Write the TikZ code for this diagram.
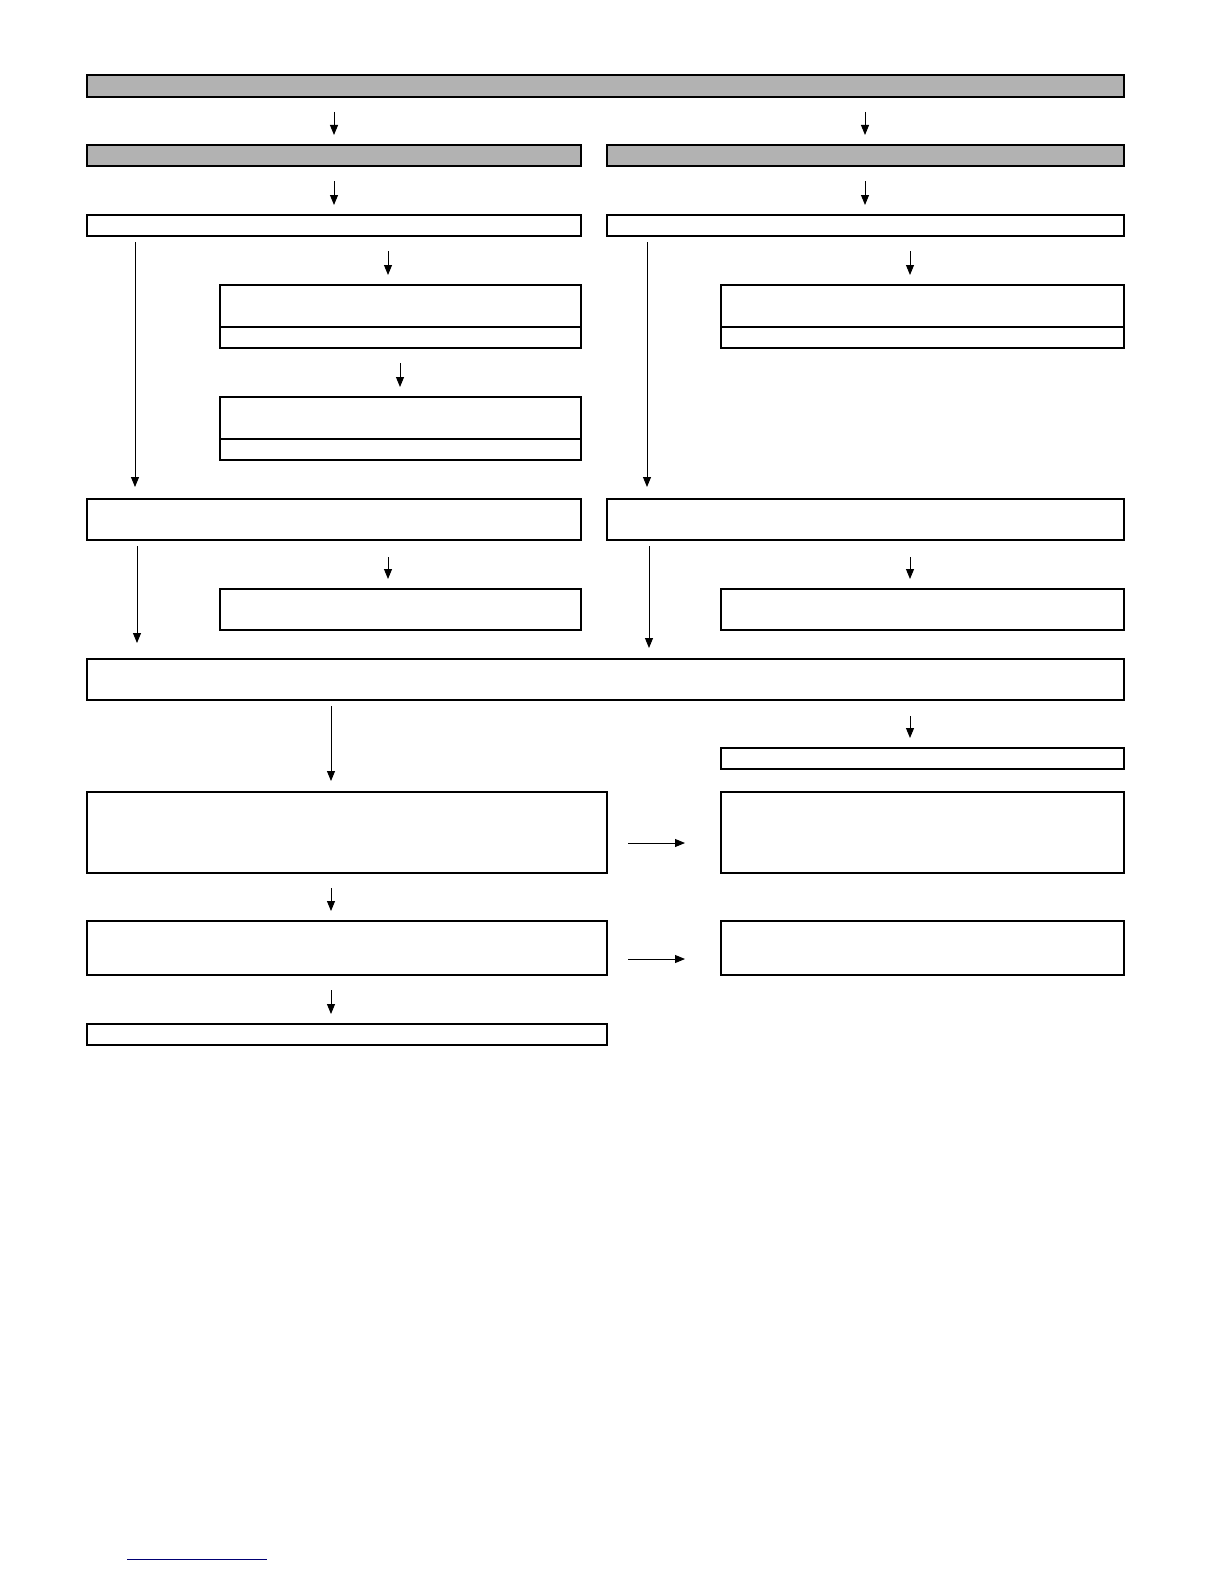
\documentclass[tikz,border=0pt]{standalone}
\usepackage{tikz}
\usetikzlibrary{arrows.meta}

\begin{document}
\begin{tikzpicture}
			[x=1pt,y=-1pt,line cap=butt,
			%Styles
			box/.style={draw,line width=1.1pt,inner sep=0pt,outer sep=0pt,anchor=north west},
			head/.style={box,fill=black!30},
			flow/.style={line width=.9pt,-{Triangle[length=10pt,width=8pt]},shorten <=15pt,shorten >=10pt}
			]
			
			%Colors
			\colorlet{linkcolor}{blue!45!black}
			
			\useasboundingbox (0,0) rectangle (1224,1584);
			
			%The graphic
			\node[head,minimum width=1037pt,minimum height=22pt] (T) at (87,75) {};
			\node[head,minimum width=494pt,minimum height=21pt] (GL) at (87,145) {};
			\node[head,minimum width=517pt,minimum height=21pt] (GR) at (607,145) {};
			\node[box,minimum width=494pt,minimum height=21pt] (WL) at (87,215) {};
			\node[box,minimum width=517pt,minimum height=21pt] (WR) at (607,215) {};
			
			\node[box,minimum width=361pt,minimum height=42pt] (AL) at (220,285) {};
			\node[box,minimum width=361pt,minimum height=21pt] (AL2) at (220,327) {};
			\node[box,minimum width=403pt,minimum height=42pt] (AR) at (721,285) {};
			\node[box,minimum width=403pt,minimum height=21pt] (AR2) at (721,327) {};
			\node[box,minimum width=361pt,minimum height=42pt] (BL) at (220,397) {};
			\node[box,minimum width=361pt,minimum height=21pt] (BL2) at (220,439) {};
			
			\node[box,minimum width=494pt,minimum height=41pt] (CL) at (87,499) {};
			\node[box,minimum width=517pt,minimum height=41pt] (CR) at (607,499) {};
			\node[box,minimum width=361pt,minimum height=41pt] (DL) at (220,589) {};
			\node[box,minimum width=403pt,minimum height=41pt] (DR) at (721,589) {};
			
			\node[box,minimum width=1037pt,minimum height=41pt] (E) at (87,659) {};
			\node[box,minimum width=403pt,minimum height=21pt] (ER) at (721,748) {};
			
			\node[box,minimum width=520pt,minimum height=81pt] (FL) at (87,792) {};
			\node[box,minimum width=403pt,minimum height=81pt] (FR) at (721,792) {};
			\node[box,minimum width=520pt,minimum height=54pt] (HL) at (87,921) {};
			\node[box,minimum width=403pt,minimum height=54pt] (HR) at (721,921) {};
			\node[box,minimum width=520pt,minimum height=21pt] (K) at (87,1024) {};
			
			%Arrow columns
			\coordinate (xa) at (334,0);
			\coordinate (xb) at (865,0);
			\coordinate (xc) at (388,0);
			\coordinate (xd) at (910,0);
			\coordinate (xe) at (400,0);
			\coordinate (xf) at (135,0);
			\coordinate (xg) at (647,0);
			\coordinate (xh) at (137,0);
			\coordinate (xi) at (649,0);
			\coordinate (xj) at (331,0);
			\coordinate (yf) at (0,843);
			\coordinate (yh) at (0,959);
			
			\draw[flow] (T.south -| xa) -- (GL.north -| xa);
			\draw[flow] (T.south -| xb) -- (GR.north -| xb);
			\draw[flow] (GL.south -| xa) -- (WL.north -| xa);
			\draw[flow] (GR.south -| xb) -- (WR.north -| xb);
			\draw[flow] (WL.south -| xc) -- (AL.north -| xc);
			\draw[flow] (WR.south -| xd) -- (AR.north -| xd);
			\draw[flow] (AL2.south -| xe) -- (BL.north -| xe);
			\draw[flow,shorten <=6pt,shorten >=12pt] (WL.south -| xf) -- (CL.north -| xf);
			\draw[flow,shorten <=6pt,shorten >=12pt] (WR.south -| xg) -- (CR.north -| xg);
			\draw[flow,shorten <=17pt] (CL.south -| xc) -- (DL.north -| xc);
			\draw[flow,shorten <=17pt] (CR.south -| xd) -- (DR.north -| xd);
			\draw[flow,shorten <=6pt,shorten >=16pt] (CL.south -| xh) -- (E.north -| xh);
			\draw[flow,shorten <=6pt,shorten >=11pt] (CR.south -| xi) -- (E.north -| xi);
			\draw[flow,shorten <=6pt,shorten >=11pt] (E.south -| xj) -- (FL.north -| xj);
			\draw[flow,shorten <=16pt] (E.south -| xd) -- (ER.north -| xd);
			\draw[flow,shorten <=21pt,shorten >=36pt] (FL.east |- yf) -- (FR.west |- yf);
			\draw[flow] (FL.south -| xj) -- (HL.north -| xj);
			\draw[flow,shorten <=21pt,shorten >=36pt] (HL.east |- yh) -- (HR.west |- yh);
			\draw[flow] (HL.south -| xj) -- (K.north -| xj);
			
			\draw[linkcolor,line width=1pt] (127,1559) -- (267,1559);
		\end{tikzpicture}
\end{document}
